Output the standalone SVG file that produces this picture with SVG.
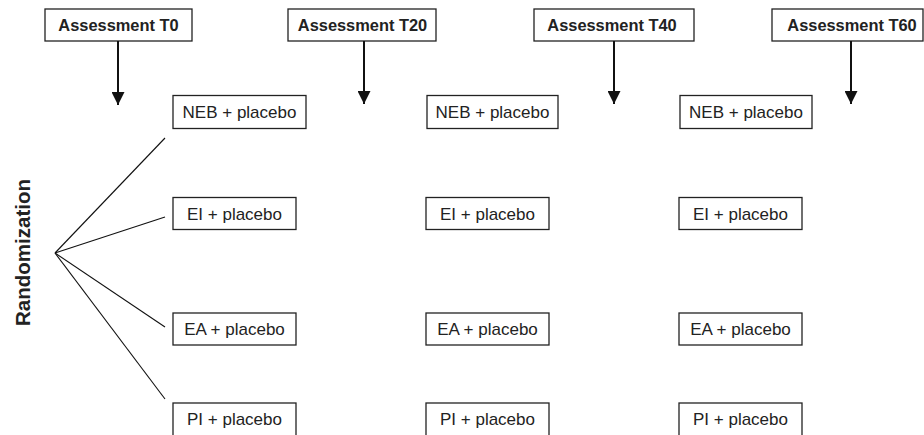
<svg xmlns="http://www.w3.org/2000/svg" width="924" height="435" viewBox="0 0 924 435">
<style>
.box{fill:#fff;stroke:#222;stroke-width:1.3}
.hd{font-family:"Liberation Sans",Arial,sans-serif;font-weight:bold;font-size:16.4px;fill:#222;text-anchor:middle}
.tx{font-family:"Liberation Sans",Arial,sans-serif;font-size:17px;fill:#222;text-anchor:middle}
.arr{stroke:#111;stroke-width:2;fill:none}
.fan{stroke:#111;stroke-width:1.1;fill:none}
</style>
<defs>
<marker id="ah" viewBox="0 0 13 13" refX="13" refY="6.5" markerWidth="13" markerHeight="13" markerUnits="userSpaceOnUse" orient="auto">
<path d="M0,0 L13,6.5 L0,13 Z" fill="#111"/>
</marker>
</defs>
<rect width="924" height="435" fill="#fff"/>
<g id="assess-T0"><rect class="box" x="45" y="9" width="147" height="32"/><text class="hd" x="118.5" y="31">Assessment T0</text></g>
<g id="assess-T20"><rect class="box" x="288" y="9" width="148" height="32"/><text class="hd" x="362.5" y="31">Assessment T20</text></g>
<g id="assess-T40"><rect class="box" x="534" y="9" width="160" height="32"/><text class="hd" x="612" y="31">Assessment T40</text></g>
<g id="assess-T60"><rect class="box" x="772" y="9" width="151" height="32"/><text class="hd" x="852" y="31">Assessment T60</text></g>
<g id="randomization"><text x="0" y="0" transform="translate(30,252.5) rotate(-90)" style="font-family:'Liberation Sans',Arial,sans-serif;font-weight:bold;font-size:20.5px;fill:#222;text-anchor:middle">Randomization</text></g>
<g id="neb-1"><rect class="box" x="173" y="95.5" width="133" height="33"/><text class="tx" x="239.5" y="118">NEB + placebo</text></g>
<g id="neb-2"><rect class="box" x="427" y="95.5" width="131" height="33"/><text class="tx" x="492.5" y="118">NEB + placebo</text></g>
<g id="neb-3"><rect class="box" x="680" y="95.5" width="132" height="33"/><text class="tx" x="746" y="118">NEB + placebo</text></g>
<g id="ei-1"><rect class="box" x="173" y="197.5" width="123" height="32"/><text class="tx" x="234.5" y="219.5">EI + placebo</text></g>
<g id="ei-2"><rect class="box" x="426" y="197.5" width="123" height="32"/><text class="tx" x="487.5" y="219.5">EI + placebo</text></g>
<g id="ei-3"><rect class="box" x="679" y="197.5" width="123" height="32"/><text class="tx" x="740.5" y="219.5">EI + placebo</text></g>
<g id="ea-1"><rect class="box" x="173" y="313" width="123" height="32"/><text class="tx" x="234.5" y="335">EA + placebo</text></g>
<g id="ea-2"><rect class="box" x="426" y="313" width="123" height="32"/><text class="tx" x="487.5" y="335">EA + placebo</text></g>
<g id="ea-3"><rect class="box" x="679" y="313" width="123" height="32"/><text class="tx" x="740.5" y="335">EA + placebo</text></g>
<g id="pi-1"><rect class="box" x="173" y="403" width="123" height="34"/><text class="tx" x="234.5" y="425">PI + placebo</text></g>
<g id="pi-2"><rect class="box" x="426" y="403" width="123" height="34"/><text class="tx" x="487.5" y="425">PI + placebo</text></g>
<g id="pi-3"><rect class="box" x="679" y="403" width="123" height="34"/><text class="tx" x="740.5" y="425">PI + placebo</text></g>
<g id="connectors">
<line class="arr" x1="118" y1="41" x2="118" y2="105" marker-end="url(#ah)"/>
<line class="arr" x1="364" y1="41" x2="364" y2="104" marker-end="url(#ah)"/>
<line class="arr" x1="614" y1="41" x2="614" y2="104" marker-end="url(#ah)"/>
<line class="arr" x1="851" y1="41" x2="851" y2="104" marker-end="url(#ah)"/>
<line class="fan" x1="55" y1="253" x2="165" y2="138"/>
<line class="fan" x1="55" y1="253" x2="165" y2="217"/>
<line class="fan" x1="55" y1="253" x2="165" y2="327"/>
<line class="fan" x1="55" y1="253" x2="165" y2="399"/>
</g>
</svg>
